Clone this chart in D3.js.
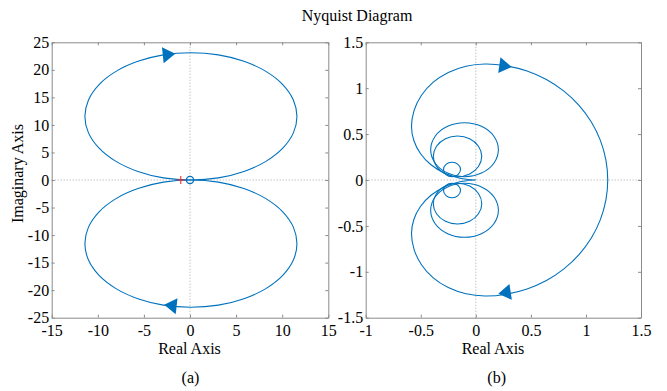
<!DOCTYPE html>
<html>
<head>
<meta charset="utf-8">
<script src="https://cdn.jsdelivr.net/npm/d3@7"></script>
<style>
  body { margin: 0; background: #fff; }
  text { font-family: "Liberation Serif", "DejaVu Serif", serif; }
</style>
</head>
<body>
<svg id="chart" width="667" height="391"></svg>
<script>
// Nyquist diagram, two panels side by side
// upper half of each curve is read off the picture,
// lower half is the conjugate (mirror) branch

// ---- panel (a) ----
const ticksXa = [-15, -10, -5, 0, 5, 10, 15];
const ticksYa = [-25, -20, -15, -10, -5, 0, 5, 10, 15, 20, 25];

// upper loop, touches the origin
const loopA = [
  [0.1, 0], [-2.88, 0.39], [-5.65, 1.55], [-8.03, 3.38], [-9.86, 5.78], [-11.01, 8.56],
  [-11.4, 11.55], [-11.01, 14.54], [-9.86, 17.33], [-8.03, 19.72], [-5.65, 21.55],
  [-2.88, 22.71], [0.1, 23.1], [3.08, 22.71], [5.85, 21.55], [8.23, 19.72], [10.06, 17.33],
  [11.21, 14.54], [11.6, 11.55], [11.21, 8.56], [10.06, 5.78], [8.23, 3.38], [5.85, 1.55],
  [3.08, 0.39]
];
const critA = [-1, 0];     // red +
const originA = [0, 0];    // blue o
// arrow heads: [tail, tip]
const arrowsA = [
  [[-3.0, 22.65], [-1.6, 22.9]],
  [[-1.5, -22.9], [-2.8, -22.65]]
];

// ---- panel (b) ----
const ticksXb = [-1, -0.5, 0, 0.5, 1, 1.5];
const ticksYb = [-1.5, -1, -0.5, 0, 0.5, 1, 1.5];

// outer branch from the origin out to the real axis
const outerB = [
  [0, 0], [-0.144, 0.02], [-0.287, 0.077], [-0.41, 0.169], [-0.503, 0.289], [-0.562, 0.428],
  [-0.584, 0.577], [-0.561, 0.755], [-0.495, 0.92], [-0.389, 1.063], [-0.25, 1.172],
  [-0.089, 1.24], [0.084, 1.264], [0.277, 1.244], [0.465, 1.187], [0.641, 1.095],
  [0.8, 0.968], [0.937, 0.813], [1.049, 0.632], [1.131, 0.432], [1.181, 0.219], [1.198, 0]
];
// the three inner loops (upper half)
const loopB1 = [
  [0.205, 0.33], [0.164, 0.477], [0.051, 0.585], [-0.103, 0.624], [-0.256, 0.585],
  [-0.369, 0.477], [-0.41, 0.33], [-0.369, 0.183], [-0.256, 0.075], [-0.103, 0.036],
  [0.051, 0.075], [0.164, 0.183]
];
const loopB2 = [
  [0.054, 0.258], [0.024, 0.368], [-0.056, 0.45], [-0.166, 0.479], [-0.276, 0.45],
  [-0.357, 0.368], [-0.386, 0.258], [-0.357, 0.147], [-0.276, 0.066], [-0.166, 0.036],
  [-0.056, 0.066], [0.024, 0.147]
];
const loopB3 = [
  [-0.139, 0.114], [-0.162, 0.17], [-0.216, 0.193], [-0.271, 0.17], [-0.293, 0.114],
  [-0.271, 0.059], [-0.216, 0.036], [-0.162, 0.059]
];
const arrowsB = [
  [[0.22, 1.25], [0.326, 1.232]],
  [[0.303, -1.222], [0.204, -1.24]]
];

const blue = "#0072BD";
const axisGray = "#8a8a8a";
const serif = '"Liberation Serif", "DejaVu Serif", serif';

const svg = d3.select("#chart");
svg.append("rect").attr("width", 667).attr("height", 391).attr("fill", "#fff");

const mirror = pts => pts.map(p => [p[0], -p[1]]);
const fmt = d => String(d);

function panel(x, y, id) {
  const g = svg.append("g");
  const [x0, x1] = x.range();
  const [y0, y1] = y.range();

  g.append("clipPath").attr("id", id)
    .append("rect").attr("x", x0).attr("y", y1).attr("width", x1 - x0).attr("height", y0 - y1);

  // dotted zero lines
  g.append("line").attr("x1", x(0)).attr("x2", x(0)).attr("y1", y0).attr("y2", y1);
  g.append("line").attr("x1", x0).attr("x2", x1).attr("y1", y(0)).attr("y2", y(0));
  g.selectAll("line").attr("stroke", "#a8a8a8").attr("stroke-width", 1)
    .attr("stroke-dasharray", "1,2");

  const plot = g.append("g").attr("clip-path", `url(#${id})`);
  return { g, plot };
}

function axes(g, x, y, tx, ty) {
  const [x0, x1] = x.range();
  const [y0, y1] = y.range();
  const ax = [
    g.append("g").attr("transform", `translate(0,${y0})`)
      .call(d3.axisBottom(x).tickValues(tx).tickSizeInner(-3).tickSizeOuter(0).tickPadding(7).tickFormat(fmt)),
    g.append("g").attr("transform", `translate(0,${y1})`)
      .call(d3.axisTop(x).tickValues(tx).tickSizeInner(-3).tickSizeOuter(0).tickFormat("")),
    g.append("g").attr("transform", `translate(${x0},0)`)
      .call(d3.axisLeft(y).tickValues(ty).tickSizeInner(-3).tickSizeOuter(0).tickPadding(2.5).tickFormat(fmt)),
    g.append("g").attr("transform", `translate(${x1},0)`)
      .call(d3.axisRight(y).tickValues(ty).tickSizeInner(-3).tickSizeOuter(0).tickFormat(""))
  ];
  ax.forEach(a => {
    a.attr("font-family", serif).attr("font-size", 16);
    a.selectAll(".domain, .tick line").attr("stroke", axisGray);
    a.selectAll("text").attr("fill", "#000")
      .style("font-family", serif).style("font-size", "16px");
  });
}

function arrows(plot, x, y, list) {
  plot.selectAll(null).data(list).enter().append("path")
    .attr("fill", blue)
    .attr("d", d => {
      const bx = x(d[0][0]), by = y(d[0][1]);
      const tx = x(d[1][0]), ty = y(d[1][1]);
      const a = Math.atan2(ty - by, tx - bx);
      const len = 12.5, hw = 8;
      const cx = tx - len * Math.cos(a), cy = ty - len * Math.sin(a);
      const nx = -Math.sin(a) * hw, ny = Math.cos(a) * hw;
      return `M${tx},${ty}L${cx + nx},${cy + ny}L${cx - nx},${cy - ny}Z`;
    });
}

// ---- draw (a) ----
const xa = d3.scaleLinear().domain([-15, 15]).range([51.7, 328.3]);
const ya = d3.scaleLinear().domain([-25, 25]).range([317.7, 42.3]);
const pa = panel(xa, ya, "clipA");

const closedA = d3.line().x(d => xa(d[0])).y(d => ya(d[1])).curve(d3.curveCatmullRomClosed);
[loopA, mirror(loopA)].forEach(l => {
  pa.plot.append("path").attr("d", closedA(l))
    .attr("fill", "none").attr("stroke", blue).attr("stroke-width", 1.1);
});
arrows(pa.plot, xa, ya, arrowsA);

// markers
pa.plot.append("circle").attr("cx", xa(originA[0])).attr("cy", ya(originA[1])).attr("r", 3.6)
  .attr("fill", "none").attr("stroke", blue).attr("stroke-width", 1.3);
pa.plot.append("path")
  .attr("d", `M${xa(critA[0]) - 4},${ya(critA[1])}h8M${xa(critA[0])},${ya(critA[1]) - 4}v8`)
  .attr("stroke", "#f03030").attr("stroke-width", 1.1);
axes(pa.g, xa, ya, ticksXa, ticksYa);

// ---- draw (b) ----
const xb = d3.scaleLinear().domain([-1, 1.5]).range([365.7, 641]);
const yb = d3.scaleLinear().domain([-1.5, 1.5]).range([317.7, 42.3]);
const pb = panel(xb, yb, "clipB");

const openB = d3.line().x(d => xb(d[0])).y(d => yb(d[1])).curve(d3.curveCatmullRom);
const closedB = d3.line().x(d => xb(d[0])).y(d => yb(d[1])).curve(d3.curveCatmullRomClosed);
// upper branch out to the real axis, then back along the mirrored lower branch
const outerFull = outerB.concat(mirror(outerB).reverse().slice(1));
pb.plot.append("path").attr("d", openB(outerFull))
  .attr("fill", "none").attr("stroke", blue).attr("stroke-width", 1.1);
[loopB1, loopB2, loopB3].forEach(l => {
  [l, mirror(l)].forEach(m => {
    pb.plot.append("path").attr("d", closedB(m))
      .attr("fill", "none").attr("stroke", blue).attr("stroke-width", 1.1);
  });
});
arrows(pb.plot, xb, yb, arrowsB);
axes(pb.g, xb, yb, ticksXb, ticksYb);

// ---- labels ----
const lab = (t, x, y) => svg.append("text").attr("x", x).attr("y", y)
  .attr("text-anchor", "middle").style("font-size", "16px").attr("fill", "#000").text(t);
lab("Nyquist Diagram", 357, 21);
lab("Real Axis", 189.5, 354);
lab("Real Axis", 493, 354);
lab("(a)", 190.5, 383);
lab("(b)", 496.7, 383);
svg.append("text").attr("transform", "translate(23,173.5) rotate(-90)")
  .attr("text-anchor", "middle").style("font-size", "16px").attr("fill", "#000")
  .text("Imaginary Axis");
</script>
</body>
</html>
